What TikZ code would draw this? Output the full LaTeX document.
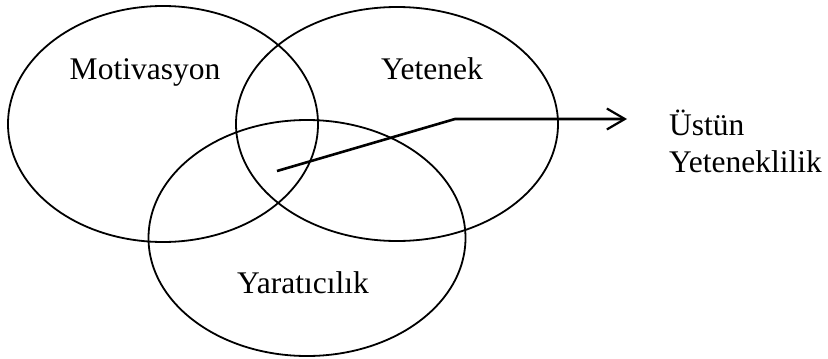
\documentclass[tikz,border=0pt]{standalone}
\usepackage{fontspec}
\setmainfont{Liberation Serif}
\usetikzlibrary{shapes.geometric,arrows.meta}
\begin{document}
\begin{tikzpicture}[x=1pt,y=-1pt,
  venn/.style={draw,ellipse,line width=1.8pt,inner sep=0pt},
  lbl/.style={font=\fontsize{31.5}{37}\selectfont,inner sep=0pt,anchor=base},
  conn/.style={line width=2.6pt,-{Straight Barb[length=18pt,width=21pt,line width=2.2pt]}}]
\useasboundingbox (0,0) rectangle (828,359);
\node[venn,minimum width=310pt,minimum height=236pt] (mot) at (163,124) {};
\node[venn,minimum width=322pt,minimum height=234pt] (yet) at (397,124) {};
\node[venn,minimum width=317pt,minimum height=236pt] (yar) at (307,238) {};
\node[lbl] (tmot) at (145,79) {Motivasyon};
\node[lbl] (tyet) at (432,79) {Yetenek};
\node[lbl] (tyar) at (303,293) {Yaratıcılık};
\node[lbl,anchor=base west] (ustun) at (669,135) {Üstün};
\node[lbl,anchor=base west] (yetk) at (669,172) {Yeteneklilik};
\coordinate (start) at (277,171);
\coordinate (bend) at (455,119);
\coordinate (tip) at (627,119);
\draw[conn] (start) -- (bend) -- (tip);
\end{tikzpicture}
\end{document}
